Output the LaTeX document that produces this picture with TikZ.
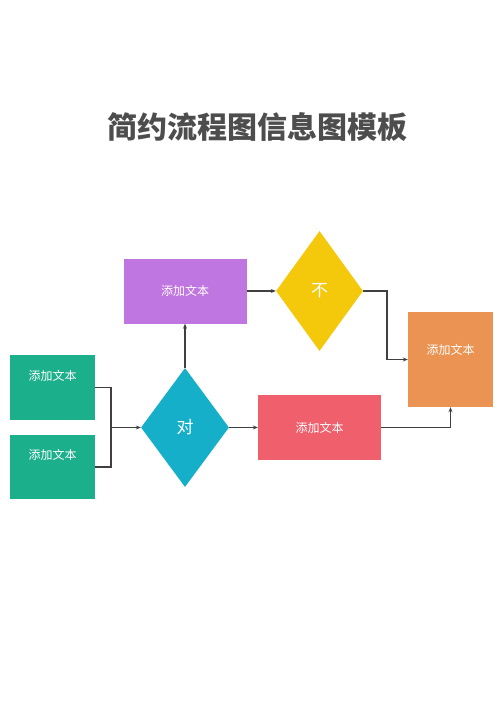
\documentclass[tikz,border=0pt]{standalone}
\usepackage{fontspec}
\newfontfamily\cjk{Noto Sans CJK SC}
\usetikzlibrary{shapes.geometric,arrows.meta}
\definecolor{boxgreen}{HTML}{1BAF8B}
\definecolor{boxcyan}{HTML}{16AFC9}
\definecolor{boxpurple}{HTML}{BF76E0}
\definecolor{boxyellow}{HTML}{F4C80B}
\definecolor{boxorange}{HTML}{EA9352}
\definecolor{boxred}{HTML}{EF5F6C}
\definecolor{linegray}{HTML}{404040}
\definecolor{titlegray}{HTML}{4D4D4D}
\tikzset{
  box/.style={rectangle, draw=none, inner sep=0pt, text=white, font=\cjk\fontsize{12}{14}\selectfont},
  choice/.style={diamond, draw=none, inner sep=0pt, text=white, font=\cjk\fontsize{17}{19}\selectfont},
  txt/.style={text=white, inner sep=0pt, font=\cjk\fontsize{12}{14}\selectfont},
  flow/.style={draw=linegray, line width=1.1pt, -{Stealth[length=5pt,width=4pt]}},
  link/.style={draw=linegray, line width=1.1pt}
}
\begin{document}
\begin{tikzpicture}[x=1pt,y=-1pt]
    \useasboundingbox (0,0) rectangle (500,707);
    % Title
    \node (title) at (257,127) {\cjk\bfseries\fontsize{30}{34}\selectfont\color{titlegray}简约流程图信息图模板};

    % Left input boxes (text sits in the upper part)
    \node[box, fill=boxgreen, minimum width=85pt, minimum height=65pt] (in1) at (52.5,387.5) {};
    \node[txt] at (52.5,376) {添加文本};
    \node[box, fill=boxgreen, minimum width=85pt, minimum height=64pt] (in2) at (52.5,467) {};
    \node[txt] at (52.5,455) {添加文本};

    % Decisions
    \node[choice, fill=boxcyan, minimum width=88pt, minimum height=119pt] (yes) at (185,427.5) {对};
    \node[choice, fill=boxyellow, minimum width=87pt, minimum height=120pt] (no) at (319.5,291) {不};

    % Process boxes
    \node[box, fill=boxpurple, minimum width=123pt, minimum height=65pt] (top) at (185,291) {添加文本};
    \node[box, fill=boxred, minimum width=123pt, minimum height=65pt] (low) at (319.5,427.5) {添加文本};
    \node[box, fill=boxorange, minimum width=85pt, minimum height=95pt] (out) at (450.5,359.5) {};
    \node[txt] at (450.5,350) {添加文本};

    % Connectors
    \coordinate (join) at (111,427.5);
    \draw[link] (in1.east) -| (join);
    \draw[link] (in2.east) -| (join);
    \draw[flow] (join) -- (yes.west);
    \draw[flow] (yes.north) -- (top.south);
    \draw[flow] (top.east) -- (no.west);
    \draw[flow] (no.east) -| (387,359.5) -- (out.west);
    \draw[flow] (yes.east) -- (low.west);
    \draw[flow] (low.east) -| (out.south);
\end{tikzpicture}
\end{document}
